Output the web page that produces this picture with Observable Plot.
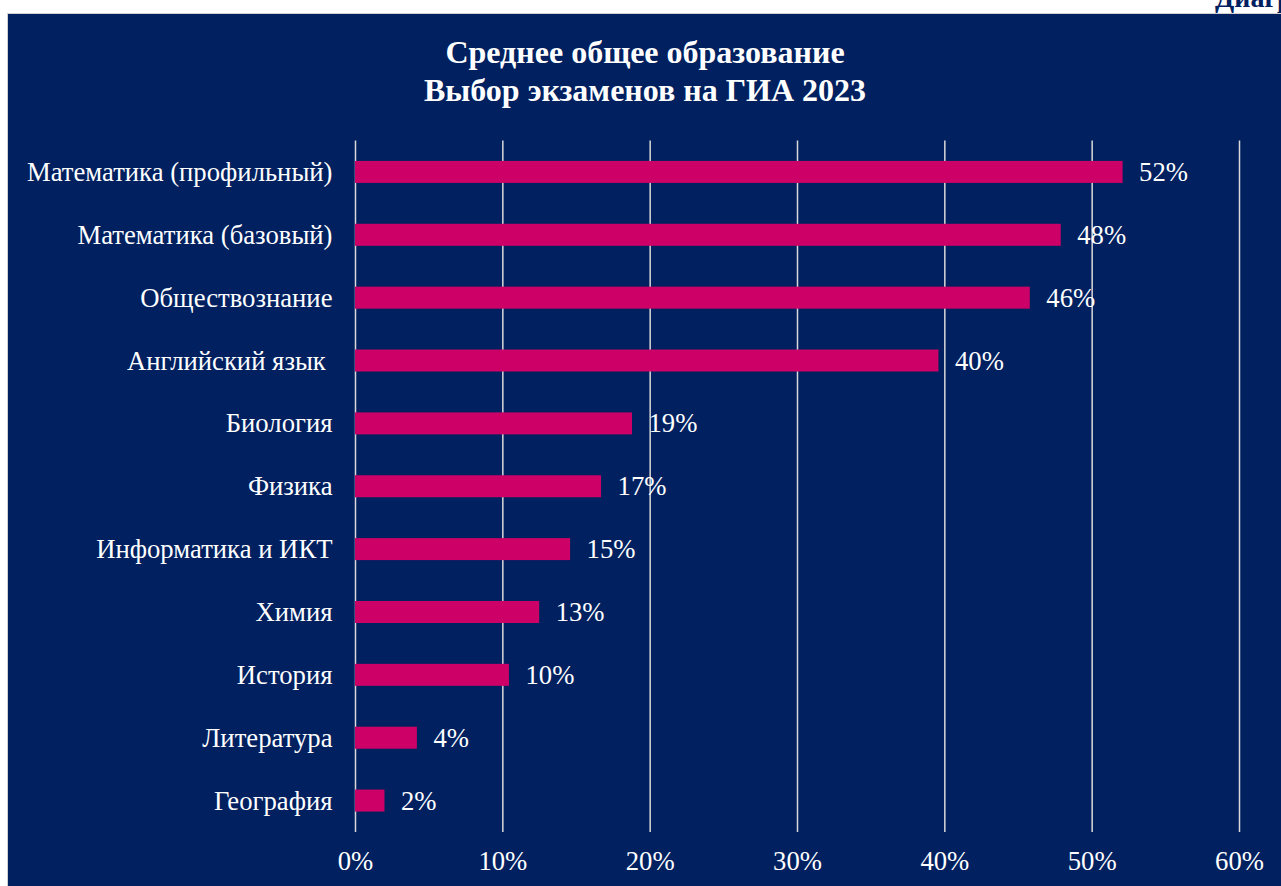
<!DOCTYPE html>
<html>
<head>
<meta charset="utf-8">
<script src="https://cdn.jsdelivr.net/npm/d3@7"></script>
<script src="https://cdn.jsdelivr.net/npm/@observablehq/plot@0.6"></script>
<style>
  html, body { margin: 0; padding: 0; background: #ffffff; overflow: hidden; width: 1281px; height: 886px; }
  #corner { position: absolute; left: 1215px; top: -18px; font: bold 28px "Liberation Serif", serif; color: #002060; white-space: nowrap; z-index: 0; }
  #box { position: absolute; left: 7px; top: 13px; width: 1274px; height: 873px; background: #002060; border-top: 1px solid #d0d0d0; border-left: 1px solid #d0d0d0; box-sizing: border-box; z-index: 1; }
  #title { position: absolute; left: 0; width: 1274px; top: 19px; text-align: center; font: bold 32px/38px "Liberation Serif", serif; color: #ffffff; }
  #chart { position: absolute; left: 0px; top: 106px; line-height: 0; }
  #chart svg text { white-space: pre; }
</style>
</head>
<body>
<div id="corner">Диаграмма</div>
<div id="box">
  <div id="title">Среднее общее образование<br>Выбор экзаменов на ГИА 2023</div>
  <div id="chart"></div>
</div>
<script>
const subjects = [
  "Математика (профильный)",
  "Математика (базовый)",
  "Обществознание",
  "Английский язык ",
  "Биология",
  "Физика",
  "Информатика и ИКТ",
  "Химия",
  "История",
  "Литература",
  "География"
];
const shares = [52.1, 47.9, 45.8, 39.6, 18.8, 16.7, 14.6, 12.5, 10.45, 4.2, 2.0];
const xTicks = [0, 10, 20, 30, 40, 50, 60];

const data = subjects.map((s, i) => ({subject: s, value: shares[i]}));

const FS = 26.7;
const chart = Plot.plot({
  width: 1273,
  height: 758,
  marginLeft: 347,
  marginRight: 42,
  marginTop: 20.5,
  marginBottom: 46,
  style: {background: "transparent", color: "#ffffff", fontFamily: "'Liberation Serif', serif", fontSize: FS + "px"},
  x: {domain: [0, 60], ticks: xTicks, tickFormat: d => d + "%", label: null, grid: false},
  y: {domain: subjects, paddingInner: 0.65, paddingOuter: 0.325, round: false, label: null},
  marks: [
    Plot.ruleX(xTicks, {stroke: "#d9d9d9", strokeWidth: 1.5}),
    Plot.barX(data, {x: "value", y: "subject", fill: "#cc0066"}),
    Plot.text(data, {x: "value", y: "subject", text: d => Math.round(d.value) + "%", textAnchor: "start", dx: 16, fill: "#ffffff", fontSize: FS}),
    Plot.axisX({ticks: xTicks, tickFormat: d => d + "%", tickSize: 0, tickPadding: 19, label: null, fontSize: FS}),
    Plot.axisY({tickSize: 0, tickPadding: 23, label: null, fontSize: FS})
  ]
});
document.getElementById("chart").appendChild(chart);
</script>
</body>
</html>
